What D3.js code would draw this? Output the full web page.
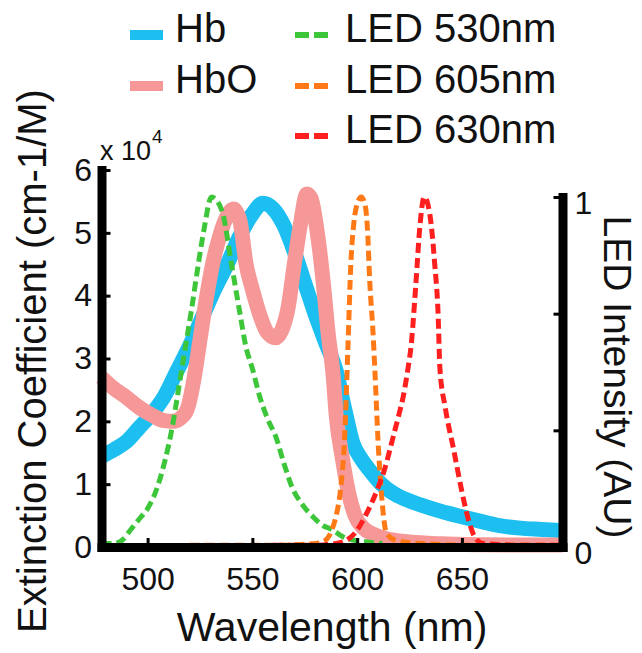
<!DOCTYPE html>
<html>
<head>
<meta charset="utf-8">
<script src="https://cdn.jsdelivr.net/npm/d3@7"></script>
<style>
  body { margin: 0; background: #fff; }
  svg { display: block; font-family: "Liberation Sans", Arial, sans-serif; }
</style>
</head>
<body>
<svg id="spectra"></svg>
<script>
// Extinction coefficients (units of 10^4 cm-1/M)
const hbWavelengths = [478, 484, 490, 496, 502, 508, 514, 520, 526, 532, 538, 544, 550, 555, 560, 565, 570, 575, 580, 585, 590, 594, 598, 602, 606, 611, 618, 626, 635, 643, 650, 660, 668, 678, 688, 698];
const hbValues = [1.44, 1.55, 1.68, 1.90, 2.12, 2.40, 2.80, 3.20, 3.65, 4.10, 4.50, 4.95, 5.30, 5.47, 5.38, 5.12, 4.70, 4.20, 3.70, 3.25, 2.80, 2.20, 1.65, 1.40, 1.22, 1.02, 0.84, 0.72, 0.62, 0.54, 0.48, 0.40, 0.34, 0.30, 0.28, 0.26];

const hboWavelengths = [478, 484, 490, 496, 502, 508, 512, 516, 519, 522, 525, 528, 531, 534, 537, 541, 544, 547, 550, 553.5, 557, 561, 564, 567, 570, 573, 576, 578, 581, 584, 586, 588.5, 590, 593, 596, 599, 603, 608, 614, 625, 640, 660, 680, 698];
const hboValues = [2.70, 2.52, 2.38, 2.22, 2.10, 2.01, 2.00, 2.06, 2.20, 2.65, 3.30, 3.95, 4.50, 4.90, 5.20, 5.38, 5.20, 4.50, 4.10, 3.70, 3.42, 3.33, 3.45, 3.80, 4.50, 5.15, 5.62, 5.55, 5.00, 4.15, 3.45, 2.75, 2.10, 1.40, 0.85, 0.50, 0.30, 0.20, 0.13, 0.08, 0.05, 0.035, 0.03, 0.03];

// LED spectra, normalised intensity
const led530Wavelengths = [478, 484, 488, 492, 496, 500, 504, 508, 512, 515, 518, 521, 524, 527, 530.5, 533, 536, 540, 544, 547, 550, 553.5, 557, 561.5, 565, 569, 574, 579, 584, 588, 593, 598, 604, 612];
const led530Values = [0.01, 0.01, 0.02, 0.05, 0.08, 0.11, 0.16, 0.24, 0.35, 0.46, 0.57, 0.68, 0.80, 0.91, 1.00, 0.99, 0.95, 0.81, 0.67, 0.57, 0.51, 0.43, 0.37, 0.31, 0.24, 0.17, 0.12, 0.086, 0.06, 0.05, 0.03, 0.02, 0.015, 0.01];

const led605Wavelengths = [520, 560, 580, 585, 588, 590, 592, 594, 595.6, 597, 598.5, 600, 602, 604, 605, 606, 607.5, 608.5, 610, 611.5, 614, 618, 630, 660, 698];
const led605Values = [0.005, 0.005, 0.01, 0.02, 0.05, 0.09, 0.16, 0.31, 0.57, 0.81, 0.93, 0.98, 1.00, 0.97, 0.90, 0.76, 0.62, 0.50, 0.30, 0.16, 0.04, 0.02, 0.01, 0.005, 0.005];

const led630Wavelengths = [560, 580, 590, 595, 599, 604, 610, 613, 617, 620, 622, 624, 626, 628, 630, 632, 634.7, 637, 638.6, 639.5, 642, 646, 651, 653.5, 656, 660, 680, 698];
const led630Values = [0.005, 0.005, 0.01, 0.02, 0.04, 0.09, 0.17, 0.22, 0.31, 0.38, 0.43, 0.50, 0.59, 0.75, 0.92, 1.00, 0.95, 0.81, 0.67, 0.51, 0.40, 0.28, 0.13, 0.07, 0.03, 0.01, 0.005, 0.005];

// Axis ticks
const xTicks = [500, 550, 600, 650];
const yLeftTicks = [0, 1, 2, 3, 4, 5, 6];
const yRightTicks = [0, 1 / 3, 2 / 3, 1];

const dims = {
  width: 642,
  height: 653,
  left: 101.5,
  right: 562.5,
  bottom: 547,
  topLeft: 170,
  topRight: 197
};

const svg = d3.select("#spectra")
    .attr("width", dims.width)
    .attr("height", dims.height);

const x = d3.scaleLinear().domain([478, 698]).range([dims.left, dims.right]);
const yLeft = d3.scaleLinear().domain([0, 6]).range([dims.bottom, dims.topLeft]);
const yRight = d3.scaleLinear().domain([0, 1]).range([dims.bottom, dims.topRight]);

const zip = (ws, vs) => ws.map((w, i) => [w, vs[i]]);

const lineLeft = d3.line()
    .x(d => x(d[0]))
    .y(d => yLeft(d[1]))
    .curve(d3.curveMonotoneX);

const lineRight = d3.line()
    .x(d => x(d[0]))
    .y(d => yRight(d[1]))
    .curve(d3.curveMonotoneX);

const series = [
  {name: "Hb", data: zip(hbWavelengths, hbValues), color: "#1cbff0", axis: "left"},
  {name: "HbO", data: zip(hboWavelengths, hboValues), color: "#f69898", axis: "left"},
  {name: "LED 530nm", data: zip(led530Wavelengths, led530Values), color: "#3ec63a", axis: "right"},
  {name: "LED 605nm", data: zip(led605Wavelengths, led605Values), color: "#ff7a17", axis: "right"},
  {name: "LED 630nm", data: zip(led630Wavelengths, led630Values), color: "#ff1f1f", axis: "right"}
];

// Curves: absorption spectra first, LED spectra on top
series.forEach(s => {
  const solid = s.axis === "left";
  svg.append("path")
      .datum(s.data)
      .attr("fill", "none")
      .attr("stroke", s.color)
      .attr("stroke-width", solid ? 15 : 5)
      .attr("stroke-dasharray", solid ? null : "10,5")
      .attr("stroke-linejoin", "round")
      .attr("d", solid ? lineLeft : lineRight);
});

// Axes (thick black MATLAB style lines, ticks pointing inward)
const styleAxis = g => {
  g.select(".domain").attr("stroke-width", 9).attr("stroke-linecap", "square");
  g.selectAll(".tick line").attr("stroke-width", 3);
  g.selectAll(".tick text").attr("font-size", 32).attr("fill", "#111");
};

svg.append("g")
    .attr("transform", `translate(0, ${dims.bottom})`)
    .call(d3.axisBottom(x).tickValues(xTicks).tickSize(-9).tickSizeOuter(0).tickPadding(20))
    .call(styleAxis);

svg.append("g")
    .attr("transform", `translate(${dims.left}, 0)`)
    .call(d3.axisLeft(yLeft).tickValues(yLeftTicks).tickSize(-9).tickSizeOuter(0).tickPadding(9.5)
        .tickFormat(d3.format("d")))
    .call(styleAxis);

svg.append("g")
    .attr("transform", `translate(${dims.right}, 0)`)
    .call(d3.axisRight(yRight).tickValues(yRightTicks).tickSize(-9).tickSizeOuter(0).tickPadding(12)
        .tickFormat(d => (d === 0 || d === 1) ? d : ""))
    .call(styleAxis)
    .call(g => g.selectAll(".tick text").attr("dy", "0.53em"));

// Exponent label
const expo = svg.append("text")
    .attr("x", 100)
    .attr("y", 160)
    .attr("font-size", 27)
    .attr("fill", "#111");
expo.append("tspan").text("x 10");
expo.append("tspan").attr("font-size", 19).attr("dy", -17).attr("dx", 1).text("4");

// Axis titles
svg.append("text")
    .attr("transform", "translate(46, 361) rotate(-90)")
    .attr("text-anchor", "middle")
    .attr("font-size", 40)
    .attr("fill", "#111")
    .text("Extinction Coefficient (cm-1/M)");

svg.append("text")
    .attr("transform", "translate(604, 377) rotate(90)")
    .attr("text-anchor", "middle")
    .attr("font-size", 39)
    .attr("fill", "#111")
    .text("LED Intensity (AU)");

svg.append("text")
    .attr("x", (dims.left + dims.right) / 2)
    .attr("y", 641)
    .attr("text-anchor", "middle")
    .attr("font-size", 41)
    .attr("fill", "#111")
    .text("Wavelength (nm)");

// Legend: two columns
const legendPos = [
  {lx: 130, tx: 175, y: 42},
  {lx: 130, tx: 175, y: 93},
  {lx: 295, tx: 345, y: 42},
  {lx: 295, tx: 345, y: 93},
  {lx: 295, tx: 345, y: 143}
];

series.forEach((s, i) => {
  const p = legendPos[i];
  const solid = s.axis === "left";
  svg.append("line")
      .attr("x1", p.lx)
      .attr("x2", p.lx + 33)
      .attr("y1", p.y - 7)
      .attr("y2", p.y - 7)
      .attr("stroke", s.color)
      .attr("stroke-width", solid ? 10 : 6)
      .attr("stroke-dasharray", solid ? null : "14,5");
  svg.append("text")
      .attr("x", p.tx)
      .attr("y", p.y)
      .attr("font-size", 40)
      .attr("fill", "#111")
      .text(s.name);
});
</script>
</body>
</html>
